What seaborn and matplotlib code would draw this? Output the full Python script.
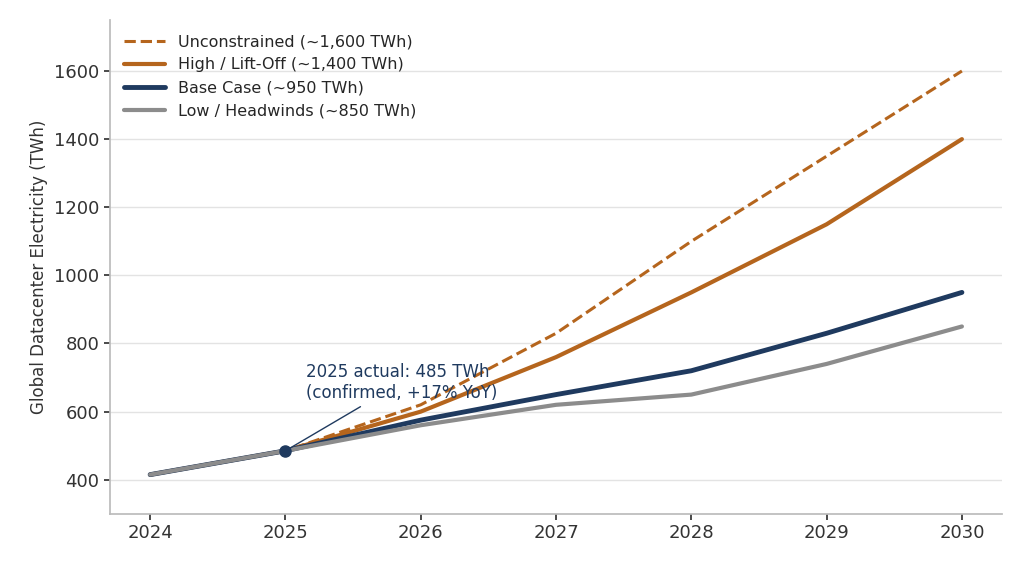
import matplotlib
matplotlib.use("Agg")
import matplotlib.pyplot as plt
import seaborn as sns
import pandas as pd

years = [2024, 2025, 2026, 2027, 2028, 2029, 2030]
unconstrained = [415, 485, 620, 830, 1100, 1350, 1600]
high = [415, 485, 600, 760, 950, 1150, 1400]
base = [415, 485, 575, 650, 720, 830, 950]
low = [415, 485, 560, 620, 650, 740, 850]
labels = ["Unconstrained (~1,600 TWh)", "High / Lift-Off (~1,400 TWh)",
          "Base Case (~950 TWh)", "Low / Headwinds (~850 TWh)"]

sns.set_theme(style="whitegrid")
plt.rcParams['font.family'] = ['DejaVu Sans']
fig, ax = plt.subplots(figsize=(10.24, 5.69), dpi=100)
fig.subplots_adjust(left=0.107, right=0.979, top=0.965, bottom=0.097)

orange = "#B5651D"; navy = "#1F3A5F"; gray = "#8C8C8C"
series = [(unconstrained, orange, "--", 2.2), (high, orange, "-", 3),
          (base, navy, "-", 3.5), (low, gray, "-", 3)]
for (vals, c, ls, lw), lab in zip(series, labels):
    df = pd.DataFrame({"year": years, "v": vals})
    sns.lineplot(data=df, x="year", y="v", ax=ax, color=c, linestyle=ls, linewidth=lw, label=lab)

ax.plot([2025], [485], "o", color=navy, markersize=8, zorder=5)
ax.annotate("2025 actual: 485 TWh\n(confirmed, +17% YoY)", xy=(2025, 485), xytext=(2025.15, 640),
            color=navy, fontsize=12, arrowprops=dict(arrowstyle="-", color=navy, lw=1))

ax.set_xlim(2023.7, 2030.3)
ax.set_ylim(300, 1750)
ax.set_yticks([400, 600, 800, 1000, 1200, 1400, 1600])
ax.set_xticks(years)
ax.set_xlabel("")
ax.set_ylabel("Global Datacenter Electricity (TWh)", fontsize=12, color="#333333")
ax.tick_params(axis="both", labelsize=13, colors="#333333", length=4, left=True, bottom=True)
ax.grid(axis="x", visible=False)
ax.grid(axis="y", color="#e3e3e3")
for s in ["top", "right"]:
    ax.spines[s].set_visible(False)
for s in ["left", "bottom"]:
    ax.spines[s].set_color("#bbbbbb")
ax.legend(loc="upper left", frameon=False, fontsize=11.5, handlelength=2.6)
fig.savefig("out.png", dpi=100)
